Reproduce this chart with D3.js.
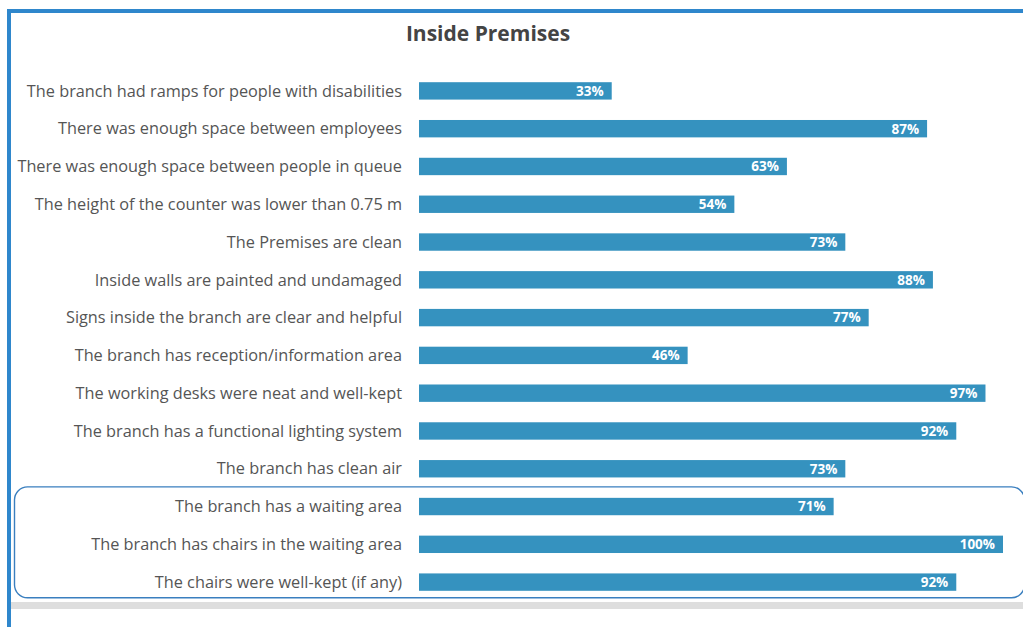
<!DOCTYPE html>
<html>
<head>
<meta charset="utf-8">
<script src="https://cdn.jsdelivr.net/npm/d3@7"></script>
<style>
  html, body { margin: 0; padding: 0; background: #fff; }
  svg { display: block; }
</style>
</head>
<body>
<svg id="chart" width="1023" height="627"></svg>
<script>
var chart_title = 'Inside Premises';

var categories = [
  'The branch had ramps for people with disabilities',
  'There was enough space between employees',
  'There was enough space between people in queue',
  'The height of the counter was lower than 0.75 m',
  'The Premises are clean',
  'Inside walls are painted and undamaged',
  'Signs inside the branch are clear and helpful',
  'The branch has reception/information area',
  'The working desks were neat and well-kept',
  'The branch has a functional lighting system ',
  'The branch has clean air',
  'The branch has a waiting area',
  'The branch has chairs in the waiting area',
  'The chairs were well-kept (if any)'
];

var values = [33, 87, 63, 54, 73, 88, 77, 46, 97, 92, 73, 71, 100, 92];

// rows that sit inside the highlighted box
var boxed_rows = [11, 12, 13];

var bar_color = '#3592bf';
var font = "'Open Sans', 'Noto Sans', sans-serif";

var svg = d3.select('#chart');

// outer frame (blue top + left border, grey strip at the bottom)
svg.append('rect')
  .attr('x', 7).attr('y', 9).attr('width', 1030).attr('height', 4)
  .attr('fill', '#2f87cc');
svg.append('rect')
  .attr('x', 7).attr('y', 9).attr('width', 4).attr('height', 630)
  .attr('fill', '#2f87cc');
svg.append('rect')
  .attr('x', 11).attr('y', 602).attr('width', 1020).attr('height', 7)
  .attr('fill', '#dedede');

svg.append('text')
  .attr('x', 488).attr('y', 41)
  .attr('text-anchor', 'middle')
  .style('font-family', font)
  .style('font-size', '21px')
  .style('font-weight', 'bold')
  .style('fill', '#444')
  .text(chart_title);

var x = d3.scaleLinear().domain([0, 100]).range([419, 1003]);
var y = d3.scaleBand()
  .domain(d3.range(categories.length))
  .range([72, 601])
  .paddingInner(0.54)
  .paddingOuter(0.27);

// highlight box round the last rows
var box_top = y(boxed_rows[0]) - 11;
var box_bottom = y(boxed_rows[boxed_rows.length - 1]) + y.bandwidth() + 7;
svg.append('rect')
  .attr('x', 14.5).attr('y', box_top)
  .attr('width', 1010).attr('height', box_bottom - box_top)
  .attr('rx', 13).attr('ry', 13)
  .attr('fill', 'none')
  .attr('stroke', '#3a7fbf')
  .attr('stroke-width', 1.4);

var rows = svg.selectAll('g.row')
  .data(values)
  .enter().append('g')
  .attr('class', 'row');

rows.append('rect')
  .attr('x', x(0))
  .attr('y', function(d, i){ return y(i); })
  .attr('width', function(d){ return x(d) - x(0); })
  .attr('height', y.bandwidth())
  .attr('fill', bar_color);

rows.append('text')
  .attr('x', 402)
  .attr('y', function(d, i){ return y(i) + y.bandwidth() / 2; })
  .attr('dy', '0.35em')
  .attr('text-anchor', 'end')
  .style('font-family', font)
  .style('font-size', '16.3px')
  .style('fill', '#555')
  .text(function(d, i){ return categories[i]; });

rows.append('text')
  .attr('x', function(d){ return x(d) - 8; })
  .attr('y', function(d, i){ return y(i) + y.bandwidth() / 2; })
  .attr('dy', '0.36em')
  .attr('text-anchor', 'end')
  .style('font-family', font)
  .style('font-size', '13.5px')
  .style('font-weight', 'bold')
  .style('fill', '#fff')
  .text(function(d){ return d + '%'; });
</script>
</body>
</html>
